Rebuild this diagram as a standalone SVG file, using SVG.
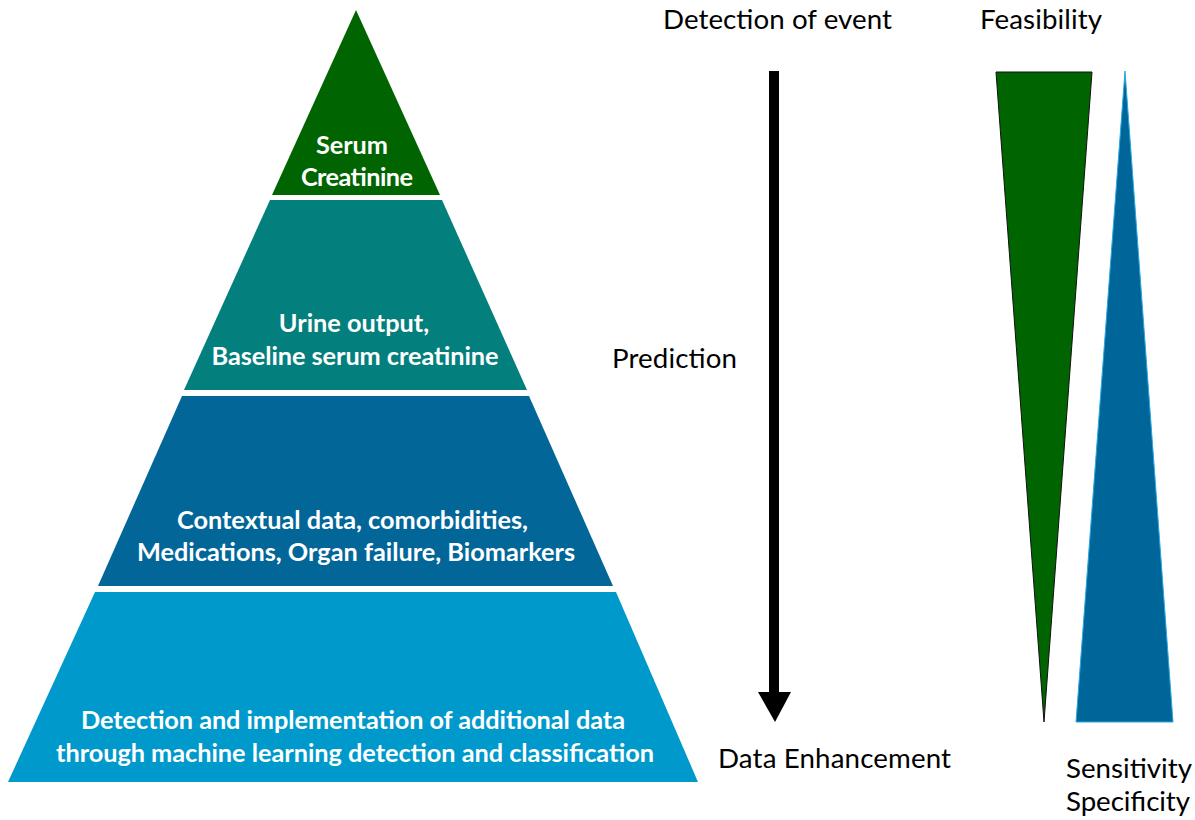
<svg xmlns="http://www.w3.org/2000/svg" width="1195" height="820" viewBox="0 0 1195 820">
  <style>
    .tier { stroke: none; }
    .tier-label { font-family: Lato, "Liberation Sans", sans-serif; font-weight: bold; font-size: 25.3px; fill: #ffffff; text-anchor: middle; }
    .side-label { font-family: Lato, "Liberation Sans", sans-serif; font-size: 27.7px; fill: #000000; }
  </style>
  <rect width="1195" height="820" fill="#ffffff"/>

  <!-- Pyramid tiers -->
  <g id="tier-serum-creatinine">
    <polygon class="tier" points="356,10 440,195 272,195" fill="#006400"/>
    <text class="tier-label" x="352" y="154" textLength="72">Serum</text>
    <text class="tier-label" x="357" y="186" textLength="112">Creatinine</text>
  </g>
  <g id="tier-urine-output">
    <polygon class="tier" points="270,200 442,200 527,390 184,390" fill="#037f7d"/>
    <text class="tier-label" x="354" y="332">Urine output,</text>
    <text class="tier-label" x="355" y="365" textLength="287">Baseline serum creatinine</text>
  </g>
  <g id="tier-contextual-data">
    <polygon class="tier" points="182,396 529,396 613,586 98,586" fill="#026699"/>
    <text class="tier-label" x="352.5" y="529" textLength="351">Contextual data, comorbidities,</text>
    <text class="tier-label" x="356" y="561" textLength="438">Medications, Organ failure, Biomarkers</text>
  </g>
  <g id="tier-additional-data">
    <polygon class="tier" points="95,592 616,592 698,782 8,782" fill="#0099cc"/>
    <text class="tier-label" x="353" y="729" textLength="544">Detection and implementation of additional data</text>
    <text class="tier-label" x="355" y="762" textLength="598">through machine learning detection and classification</text>
  </g>

  <!-- Vertical axis arrow -->
  <g id="connectors">
    <rect x="769" y="71" width="10" height="622" fill="#000000"/>
    <polygon points="758,692 791,692 775,722" fill="#000000"/>
  </g>

  <!-- Axis labels -->
  <g id="label-detection">
    <text class="side-label" x="663" y="29" textLength="229">Detection of event</text>
  </g>
  <g id="label-prediction">
    <text class="side-label" x="612" y="368" textLength="125">Prediction</text>
  </g>
  <g id="label-enhancement">
    <text class="side-label" x="718" y="768" textLength="233">Data Enhancement</text>
  </g>

  <!-- Trade-off wedges -->
  <g id="wedge-feasibility">
    <polygon points="996,72 1092,72 1044,722" fill="#006400" stroke="#111111" stroke-width="1"/>
    <text class="side-label" x="980" y="29" textLength="122">Feasibility</text>
  </g>
  <g id="wedge-sensitivity">
    <polygon points="1125,71 1173,722 1076,722" fill="#006699" stroke="#29a8e0" stroke-width="1"/>
    <text class="side-label" x="1066" y="778" textLength="126">Sensitivity</text>
    <text class="side-label" x="1066" y="811" textLength="124">Specificity</text>
  </g>
</svg>
